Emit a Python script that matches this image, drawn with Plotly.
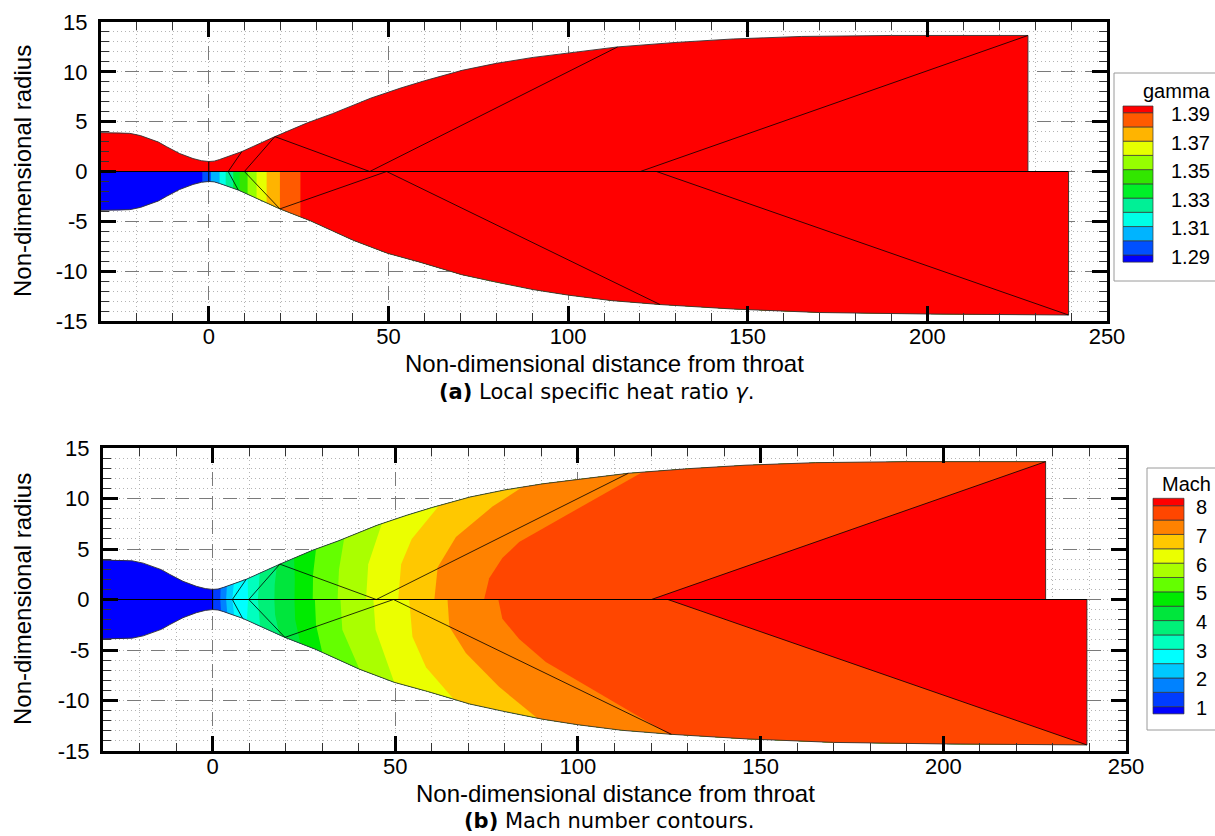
import numpy as np
import plotly.graph_objects as go

W, H = 1215, 836

# ---------------- geometry (non-dimensional) ----------------
conv_x = [-30.0, -25.0, -22.0, -19.0, -16.4, -14.0, -11.8, -8.1, -4.4, -2.0, 0.0]
conv_r = [3.9, 3.9, 3.83, 3.6, 3.3, 2.95, 2.5, 1.8, 1.3, 1.08, 1.0]

up_div_x = [1.5, 3.0, 5.0, 7.0, 9.2, 18.4, 27.4, 34.4, 45.0, 53.2, 60.0, 70.5, 80.0,
            90.3, 100.0, 113.8, 130.0, 146.0, 165.0, 190.0, 228.0]
up_div_r = [1.04, 1.2, 1.45, 1.72, 2.0, 3.5, 4.88, 5.8, 7.35, 8.35, 9.1, 10.15, 10.85,
            11.45, 11.9, 12.5, 12.95, 13.3, 13.55, 13.65, 13.65]

lo_div_x = [1.5, 3.0, 5.0, 8.2, 19.8, 28.3, 40.2, 49.7, 58.8, 70.4, 80.0, 90.3, 100.0,
            112.0, 125.6, 146.0, 170.0, 200.0, 239.3]
lo_div_r = [-1.04, -1.2, -1.45, -1.86, -3.75, -4.95, -6.9, -8.2, -9.1, -10.35, -11.1,
            -11.85, -12.4, -12.95, -13.35, -13.8, -14.15, -14.3, -14.4]

# characteristic lines
char_up_x = [[5.4, 9.2], [9.9, 18.4, 44.8, 113.8], [120.1, 228.0]]
char_up_r = [[0.0, 2.0], [0.0, 3.5, 0.0, 12.5], [0.0, 13.65]]
char_lo_x = [[5.4, 8.2], [9.9, 19.8, 49.5, 125.6], [124.6, 239.3]]
char_lo_r = [[0.0, -1.86], [0.0, -3.75, 0.0, -13.35], [0.0, -14.4]]

# axis ticks / labels
x_tickvals = [0, 50, 100, 150, 200, 250]
x_ticktext = ['0', '50', '100', '150', '200', '250']
y_tickvals = [-15, -10, -5, 0, 5, 10, 15]
y_ticktext = ['-15', '-10', '-5', '0', '5', '10', '15']

# ---------------- gamma (top panel) ----------------
gamma_levels = [1.29, 1.30, 1.31, 1.32, 1.33, 1.34, 1.35, 1.36, 1.37, 1.38, 1.39]
gamma_colors = ['#0000FF', '#0050FF', '#00B4FF', '#00FFE6', '#00F096', '#00F028',
                '#32E600', '#96FF00', '#E6FF00', '#FFB400', '#FF5A00', '#FF0000']
gamma_label_levels = [1.29, 1.31, 1.33, 1.35, 1.37, 1.39]
# x-positions of the gamma iso-lines in the lower half (one per level)
gamma_lo_bx = [-1.8, 0.6, 3.0, 4.7, 6.8, 8.6, 10.8, 13.3, 16.1, 19.8, 25.5]
gamma_up_value = 1.40  # uniform in upper half

# ---------------- Mach (bottom panel) ----------------
mach_levels = [1.0, 1.5, 2.0, 2.5, 3.0, 3.5, 4.0, 4.5, 5.0, 5.5, 6.0, 6.5, 7.0, 7.5, 8.0]
mach_colors = ['#0000FF', '#003CFF', '#0082FF', '#00C8FF', '#00FFFF', '#00FFBE',
               '#00F078', '#00E63C', '#00EB00', '#64FF00', '#AAFF00', '#EBFF00',
               '#FFC800', '#FF8200', '#FF4600', '#FF0000']
mach_label_levels = [1, 2, 3, 4, 5, 6, 7, 8]

# iso-Mach lines, upper half: interior points (axis -> wall) and wall x
mach_up_bx = [[0.0], [2.1], [3.7], [5.4], [9.7], [12.4], [16.9, 17.0], [22.4, 22.5],
              [27.4, 27.5], [34.2, 34.6], [42.0, 42.6], [50.8, 51.6, 54.5],
              [60.7, 61.6, 66.6, 76.6], [74.3, 75.7, 79.3, 83.9], [120.1]]
mach_up_br = [[0.0], [0.0], [0.0], [0.0], [0.0], [0.0], [0.0, 1.5], [0.0, 2.0],
              [0.0, 2.5], [0.0, 3.0], [0.0, 3.5], [0.0, 3.5, 6.0],
              [0.0, 3.2, 6.2, 9.2], [0.0, 2.1, 4.1, 5.7], [0.0]]
mach_up_wx = [0.0, 2.2, 3.9, 5.8, 9.6, 12.9, 17.6, 22.3, 28.3, 36.0, 46.3, 62.0,
              84.8, 117.6, 228.0]

mach_lo_bx = [[0.0], [2.1], [3.7], [5.4], [9.7], [12.4], [16.9, 17.1], [22.4, 22.6],
              [28.0, 28.3], [35.0, 35.5], [44.0, 44.6], [53.8, 54.7, 58.4],
              [64.3, 64.8, 69.3, 78.4], [78.2, 79.3, 83.9, 91.2], [124.6]]
mach_lo_br = [[0.0], [0.0], [0.0], [0.0], [0.0], [0.0], [0.0, -1.5], [0.0, -2.0],
              [0.0, -2.5], [0.0, -3.0], [0.0, -3.0], [0.0, -3.7, -6.7],
              [0.0, -2.7, -5.3, -8.65], [0.0, -1.9, -3.9, -6.2], [0.0]]
mach_lo_wx = [0.0, 2.3, 4.0, 5.9, 9.4, 13.0, 18.3, 24.0, 30.0, 40.2, 49.7, 66.0,
              88.9, 124.9, 239.3]

# ---------------- helpers ----------------
wall_up_x = conv_x + up_div_x
wall_up_r = conv_r + up_div_r
wall_lo_x = conv_x + lo_div_x
wall_lo_r = [-r for r in conv_r] + lo_div_r


def full_half(wx, wr):
    return [wx[0]] + wx + [wx[-1]], [0.0] + wr + [0.0]


def right_region(bx, br, xw, wx, wr):
    rw = float(np.interp(xw, wx, wr))
    px = list(bx) + [xw] + [x for x in wx if x > xw] + [wx[-1]]
    pr = list(br) + [rw] + [r for x, r in zip(wx, wr) if x > xw] + [0.0]
    return px, pr


fig = go.Figure()


def poly(px, pr, color, ax):
    fig.add_trace(go.Scatter(x=px, y=pr, fill='toself', fillcolor=color, mode='lines',
                             line=dict(width=0, color=color), hoverinfo='skip',
                             showlegend=False, xaxis=ax[0], yaxis=ax[1]))


def line(px, pr, ax, color='black', width=1.0):
    fig.add_trace(go.Scatter(x=px, y=pr, mode='lines', line=dict(color=color, width=width),
                             hoverinfo='skip', showlegend=False, xaxis=ax[0], yaxis=ax[1]))


def color_for(val, levels, colors):
    i = int(np.searchsorted(levels, val, side='right'))
    return colors[i]


A1 = ('x', 'y')
A2 = ('x2', 'y2')

# ---- top panel: gamma ----
px, pr = full_half(wall_up_x, wall_up_r)
poly(px, pr, color_for(gamma_up_value, gamma_levels, gamma_colors), A1)
px, pr = full_half(wall_lo_x, wall_lo_r)
poly(px, pr, gamma_colors[0], A1)
for i, bx in enumerate(gamma_lo_bx):
    px, pr = right_region([bx], [0.0], bx, wall_lo_x, wall_lo_r)
    poly(px, pr, gamma_colors[i + 1], A1)

# ---- bottom panel: Mach ----
px, pr = full_half(wall_up_x, wall_up_r)
poly(px, pr, mach_colors[0], A2)
for i in range(len(mach_levels)):
    px, pr = right_region(mach_up_bx[i], mach_up_br[i], mach_up_wx[i], wall_up_x, wall_up_r)
    poly(px, pr, mach_colors[i + 1], A2)
px, pr = full_half(wall_lo_x, wall_lo_r)
poly(px, pr, mach_colors[0], A2)
for i in range(len(mach_levels)):
    px, pr = right_region(mach_lo_bx[i], mach_lo_br[i], mach_lo_wx[i], wall_lo_x, wall_lo_r)
    poly(px, pr, mach_colors[i + 1], A2)

# ---- outlines and characteristic lines (both panels) ----
for ax in (A1, A2):
    line(wall_up_x + [wall_up_x[-1]], wall_up_r + [0.0], ax, color='#333333', width=0.9)
    line(wall_lo_x + [wall_lo_x[-1]], wall_lo_r + [0.0], ax, color='#333333', width=0.9)
    line([wall_up_x[0], wall_lo_x[-1]], [0.0, 0.0], ax, width=1.0)
    line([0.0, 0.0], [conv_r[-1], -conv_r[-1]], ax, width=1.0)
    for cx, cr in zip(char_up_x, char_up_r):
        line(cx, cr, ax, width=0.8)
    for cx, cr in zip(char_lo_x, char_lo_r):
        line(cx, cr, ax, width=0.8)

# ---------------- axes ----------------
tickfont = dict(family='Liberation Sans, Arial, sans-serif', size=22, color='black')


def axis_style(vals, text, mdtick, standoff):
    return dict(showline=True, linecolor='black', linewidth=3, mirror='ticks',
                ticks='inside', ticklen=15, tickwidth=3, tickcolor='black',
                tickmode='array', tickvals=vals, ticktext=text, automargin=False,
                showgrid=True, gridcolor='#7a7a7a', griddash='14px,10px', gridwidth=1,
                zeroline=False, tickfont=tickfont, ticklabelstandoff=standoff,
                minor=dict(ticks='inside', ticklen=8, tickwidth=1, tickcolor='#333333',
                           tickmode='linear', tick0=0, dtick=mdtick,
                           showgrid=True, gridcolor='#b4b4b4',
                           griddash='1px,3px', gridwidth=1))


def fx(px):
    return px / W


def fy(py):
    return 1 - py / H


xa = axis_style(x_tickvals, x_ticktext, 10, -6)
ya = axis_style(y_tickvals, y_ticktext, 1, 6)
fig.update_layout(
    width=W, height=H, margin=dict(l=0, r=0, t=0, b=0, pad=0, autoexpand=False),
    paper_bgcolor='white', plot_bgcolor='white', showlegend=False,
    xaxis=dict(xa, domain=[fx(101), fx(1107)], range=[-30, 250], anchor='y'),
    yaxis=dict(ya, domain=[fy(321), fy(22)], range=[-15, 15], anchor='x'),
    xaxis2=dict(xa, domain=[fx(103), fx(1126)], range=[-30, 250], anchor='y2'),
    yaxis2=dict(ya, domain=[fy(751), fy(448)], range=[-15, 15], anchor='x2'),
)

annotations = []
shapes = []
title_font = dict(family='Liberation Sans, Arial, sans-serif', size=24, color='black')
cap_font = dict(family='DejaVu Sans, Verdana, sans-serif', size=21, color='black')


def ann(text, x, y, font, xanchor='center', yanchor='middle', angle=0):
    annotations.append(dict(text=text, x=fx(x), y=fy(y), xref='paper', yref='paper',
                            showarrow=False, font=font, xanchor=xanchor, yanchor=yanchor,
                            textangle=angle, borderpad=0))


ann('Non-dimensional radius', 22, 171, title_font, angle=-90)
ann('Non-dimensional radius', 22, 599, title_font, angle=-90)
ann('Non-dimensional distance from throat', 604, 364, title_font)
ann('Non-dimensional distance from throat', 615, 793, title_font)
ann('<b>(a)</b> Local specific heat ratio <i>γ</i>.', 596, 392, cap_font)
ann('<b>(b)</b> Mach number contours.', 609, 821, cap_font)


def colorbar(box, bar_x0, bar_x1, top, first, step, levels, colors, label_levels,
             label_x, title, title_x, title_y, fmt):
    shapes.append(dict(type='rect', xref='paper', yref='paper',
                       x0=fx(box[0]), x1=fx(box[1]), y0=fy(box[3]), y1=fy(box[2]),
                       line=dict(color='#9a9a9a', width=1), fillcolor='white', layer='above'))
    n = len(levels)
    ybound = [first + (n - 1 - k) * step for k in range(n)]
    edges = [ybound[0] + step / 2] + ybound + [top]
    for i, c in enumerate(colors):
        y_lo, y_hi = edges[i], edges[i + 1]
        shapes.append(dict(type='rect', xref='paper', yref='paper',
                           x0=fx(bar_x0), x1=fx(bar_x1), y0=fy(y_lo), y1=fy(y_hi),
                           fillcolor=c, line=dict(color='#333333', width=0.7), layer='above'))
    lab_font = dict(family='Liberation Sans, Arial, sans-serif', size=20, color='black')
    for lv in label_levels:
        k = int(np.argmin(np.abs(np.array(levels) - lv)))
        ann(fmt.format(lv), label_x, ybound[k] + 1.5, lab_font, xanchor='left')
    ann(title, title_x, title_y, lab_font, xanchor='left')


colorbar((1114, 1240, 73, 281), 1123, 1153, 106, 112.7, (255 - 112.7) / 10,
         gamma_levels, gamma_colors, gamma_label_levels, 1170, 'gamma', 1142, 91, '{:.2f}')
colorbar((1147, 1240, 468, 730), 1153, 1184, 498.3, 505.7, (706.7 - 505.7) / 14,
         mach_levels, mach_colors, mach_label_levels, 1195, 'Mach', 1161, 484, '{:d}')

fig.update_layout(annotations=annotations, shapes=shapes)
fig.write_html('out.html')
